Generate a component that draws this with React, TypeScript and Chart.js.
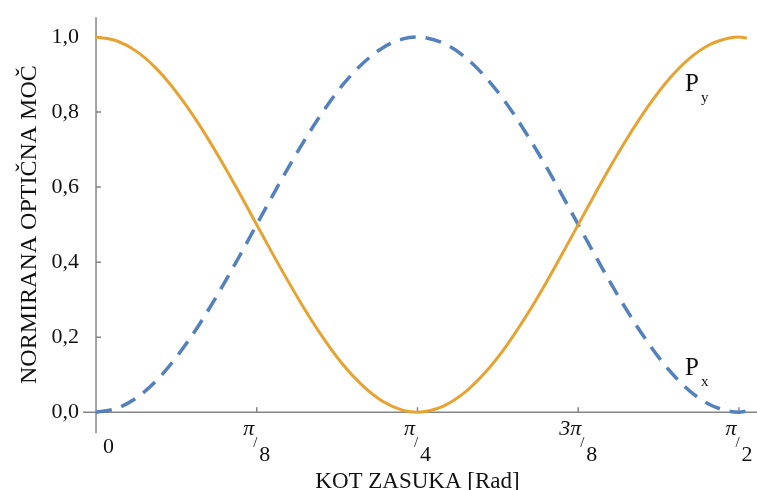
import React, { useEffect, useRef } from "react";
import { Chart, registerables } from "chart.js";

Chart.register(...registerables);

// Rotation angle (rad)
const angles = [
  0, 0.05, 0.1, 0.15, 0.2, 0.25, 0.3, 0.35, 0.4, 0.45, 0.5, 0.55, 0.6, 0.65, 0.7, 0.75, 0.785,
  0.8, 0.85, 0.9, 0.95, 1.0, 1.05, 1.1, 1.15, 1.2, 1.25, 1.3, 1.35, 1.4, 1.45, 1.5, 1.55, 1.571, 1.59,
];
// Normalised optical power P_y
const powerY = [
  1.0, 0.99, 0.961, 0.913, 0.848, 0.77, 0.681, 0.585, 0.485, 0.386, 0.292, 0.206, 0.131, 0.072, 0.029, 0.005, 0.0,
  0.001, 0.017, 0.052, 0.105, 0.173, 0.255, 0.346, 0.444, 0.544, 0.642, 0.734, 0.817, 0.888, 0.943, 0.98, 0.998, 1.0, 0.997,
];
// Normalised optical power P_x
const powerX = [
  0.0, 0.01, 0.039, 0.087, 0.152, 0.23, 0.319, 0.415, 0.515, 0.614, 0.708, 0.794, 0.869, 0.928, 0.971, 0.995, 1.0,
  0.999, 0.983, 0.948, 0.895, 0.827, 0.745, 0.654, 0.556, 0.456, 0.358, 0.266, 0.183, 0.112, 0.057, 0.02, 0.002, 0.0, 0.003,
];

const xTickValues = [0, Math.PI / 8, Math.PI / 4, (3 * Math.PI) / 8, Math.PI / 2];
const xTickNumerators = ["0", "π", "π", "3π", "π"];
const xTickDenominators = ["", "8", "4", "8", "2"];
const yTickValues = [0, 0.2, 0.4, 0.6, 0.8, 1.0];

const xTitle = "KOT ZASUKA [Rad]";
const yTitle = "NORMIRANA OPTIČNA MOČ";

const seriesLabels = [
  { main: "P", sub: "y", x: 1.439, y: 0.855 },
  { main: "P", sub: "x", x: 1.439, y: 0.098 },
];

const FONT = '"Liberation Serif", "Times New Roman", serif';
const AXIS_COLOR = "#858585";
const ORANGE = "#E8A230";
const BLUE = "#5381BD";

const axesPlugin = {
  id: "customAxes",
  beforeDatasetsDraw(chart: any) {
    const { ctx, chartArea, scales } = chart;
    const xs = scales.x;
    const ys = scales.y;
    const x0 = xs.getPixelForValue(0);
    const y0 = ys.getPixelForValue(0);
    ctx.save();
    ctx.strokeStyle = AXIS_COLOR;
    ctx.lineWidth = 1.5;
    ctx.beginPath();
    ctx.moveTo(chartArea.left, y0);
    ctx.lineTo(chartArea.right, y0);
    ctx.moveTo(x0, chartArea.top);
    ctx.lineTo(x0, chartArea.bottom);
    xTickValues.forEach((v, i) => {
      if (i === 0) return;
      const px = xs.getPixelForValue(v);
      ctx.moveTo(px, y0);
      ctx.lineTo(px, y0 - 5);
    });
    yTickValues.forEach((v) => {
      const py = ys.getPixelForValue(v);
      ctx.moveTo(x0, py);
      ctx.lineTo(x0 + 5, py);
    });
    ctx.stroke();
    ctx.restore();
  },
  afterDraw(chart: any) {
    const { ctx, scales } = chart;
    const xs = scales.x;
    const ys = scales.y;
    const x0 = xs.getPixelForValue(0);
    const y0 = ys.getPixelForValue(0);
    ctx.save();
    ctx.fillStyle = "#111";
    ctx.textBaseline = "alphabetic";

    // x tick labels (fractions)
    xTickValues.forEach((v, i) => {
      const px = xs.getPixelForValue(v);
      const num = xTickNumerators[i];
      const den = xTickDenominators[i];
      if (!den) {
        ctx.font = `22px ${FONT}`;
        ctx.textAlign = "left";
        ctx.fillText(num, px + 7, y0 + 41);
        return;
      }
      ctx.font = `italic 22px ${FONT}`;
      const wN = ctx.measureText(num).width;
      ctx.font = `22px ${FONT}`;
      const wD = ctx.measureText(den).width;
      const gap = 5;
      const L = px - (wN + gap + wD) / 2;
      ctx.textAlign = "left";
      ctx.font = `italic 22px ${FONT}`;
      ctx.fillText(num, L, y0 + 23);
      ctx.font = `15px ${FONT}`;
      ctx.fillText("/", L + wN - 1, y0 + 35);
      ctx.font = `22px ${FONT}`;
      ctx.fillText(den, L + wN + gap, y0 + 49);
    });

    // x title
    ctx.font = `23px ${FONT}`;
    ctx.textAlign = "center";
    const cx = (xs.getPixelForValue(xTickValues[0]) + xs.getPixelForValue(xTickValues[4])) / 2;
    ctx.fillText(xTitle, cx, y0 + 76);

    // y title
    ctx.save();
    ctx.translate(36, (ys.getPixelForValue(0) + ys.getPixelForValue(1)) / 2 + 0);
    ctx.rotate(-Math.PI / 2);
    ctx.font = `24px ${FONT}`;
    ctx.textAlign = "center";
    ctx.fillText(yTitle, 0, 0);
    ctx.restore();

    // series labels
    seriesLabels.forEach((s) => {
      const px = xs.getPixelForValue(s.x);
      const py = ys.getPixelForValue(s.y);
      ctx.textAlign = "left";
      ctx.font = `25px ${FONT}`;
      const w = ctx.measureText(s.main).width;
      ctx.fillText(s.main, px, py);
      ctx.font = `15px ${FONT}`;
      ctx.fillText(s.sub, px + w + 2, py + 11);
    });
    ctx.restore();
  },
};

export default function App() {
  const canvasRef = useRef<HTMLCanvasElement | null>(null);

  useEffect(() => {
    if (!canvasRef.current) return;
    const chart = new Chart(canvasRef.current, {
      type: "line",
      data: {
        datasets: [
          {
            label: "Py",
            data: angles.map((a, i) => ({ x: a, y: powerY[i] })),
            borderColor: ORANGE,
            borderWidth: 3,
            pointRadius: 0,
            cubicInterpolationMode: "monotone",
            fill: false,
          },
          {
            label: "Px",
            data: angles.map((a, i) => ({ x: a, y: powerX[i] })),
            borderColor: BLUE,
            borderWidth: 3.5,
            borderDash: [16, 10],
            pointRadius: 0,
            cubicInterpolationMode: "monotone",
            fill: false,
          },
        ],
      },
      options: {
        responsive: false,
        animation: false,
        clip: false as any,
        layout: { padding: { top: 13, right: 0, bottom: 0, left: 0 } },
        plugins: {
          legend: { display: false },
          tooltip: { enabled: false },
        },
        scales: {
          x: {
            type: "linear",
            min: -0.0318,
            max: 1.6148,
            grid: { display: false },
            border: { display: false },
            ticks: { display: false },
            afterFit: (scale: any) => {
              scale.height = 57;
            },
          },
          y: {
            type: "linear",
            min: -0.0554,
            max: 1.0528,
            grid: { display: false, drawTicks: false },
            border: { display: false },
            afterBuildTicks: (scale: any) => {
              scale.ticks = yTickValues.map((v) => ({ value: v }));
            },
            ticks: {
              padding: 4,
              color: "#111",
              font: { family: FONT, size: 22 },
              callback: (v: any) => Number(v).toFixed(1).replace(".", ","),
            },
            afterFit: (scale: any) => {
              scale.width = 83;
            },
          },
        },
      },
      plugins: [axesPlugin],
    });
    return () => chart.destroy();
  }, []);

  return (
    <div style={{ position: "fixed", left: 0, top: 0, width: 757, height: 490 }}>
      <canvas ref={canvasRef} width={757} height={490} style={{ display: "block" }} />
    </div>
  );
}
